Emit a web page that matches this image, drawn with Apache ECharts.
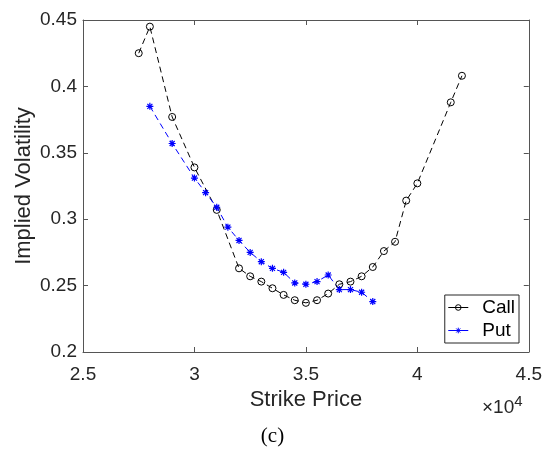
<!DOCTYPE html>
<html>
<head>
<meta charset="utf-8">
<script src="https://cdn.jsdelivr.net/npm/echarts@6/dist/echarts.min.js"></script>
<style>
html,body{margin:0;padding:0;background:#fff;}
#chart{width:545px;height:461px;}
</style>
</head>
<body>
<div id="chart"></div>
<script>
const callStrikes = [27500,28000,29000,30000,31000,32000,32500,33000,33500,34000,34500,35000,35500,36000,36500,37000,37500,38000,38500,39000,39500,40000,41500,42000];
const callIV = [0.425,0.445,0.377,0.339,0.307,0.263,0.257,0.253,0.248,0.243,0.239,0.237,0.239,0.244,0.251,0.253,0.257,0.264,0.276,0.283,0.314,0.327,0.388,0.408];
const putStrikes = [28000,29000,30000,30500,31000,31500,32000,32500,33000,33500,34000,34500,35000,35500,36000,36500,37000,37500,38000];
const putIV = [0.385,0.357,0.331,0.320,0.309,0.294,0.284,0.275,0.268,0.263,0.260,0.252,0.251,0.253,0.258,0.247,0.247,0.245,0.238];
const xTickLabels = ['2.5','3','3.5','4','4.5'];
const yTickLabels = ['0.2','0.25','0.3','0.35','0.4','0.45'];

const font = 'Liberation Sans, Helvetica, Arial, sans-serif';
const textColor = '#262626';
const axisColor = '#555555';
const asterisk = 'path://M0,-5L0,5M-5,0L5,0M-3.6,-3.6L3.6,3.6M-3.6,3.6L3.6,-3.6';

const chart = echarts.init(document.getElementById('chart'), null, {renderer:'canvas'});
const xBase = {
  type:'value', min:25000, max:45000, interval:5000,
  axisLine:{show:true, onZero:false, lineStyle:{color:axisColor, width:1}},
  axisTick:{show:true, inside:true, length:5, lineStyle:{color:axisColor}},
  splitLine:{show:false}
};
const yBase = {
  type:'value', min:0.2, max:0.45, interval:0.05,
  axisLine:{show:true, onZero:false, lineStyle:{color:axisColor, width:1}},
  axisTick:{show:true, inside:true, length:5, lineStyle:{color:axisColor}},
  splitLine:{show:false}
};
const option = {
  backgroundColor:'#fff',
  animation:false,
  grid:{left:83, right:16, top:20, bottom:109, containLabel:false},
  xAxis:[
    Object.assign({}, xBase, {
      position:'bottom',
      name:'Strike Price', nameLocation:'middle', nameGap:37, nameMoveOverlap:false,
      nameTextStyle:{fontFamily:font, fontSize:22, color:textColor},
      axisLabel:{show:true, margin:13, fontFamily:font, fontSize:19, color:textColor,
        formatter:function(v){ return xTickLabels[Math.round((v-25000)/5000)]; }}
    }),
    Object.assign({}, xBase, {position:'top', axisLabel:{show:false}})
  ],
  yAxis:[
    Object.assign({}, yBase, {
      position:'left',
      name:'Implied Volatility', nameLocation:'middle', nameGap:48, nameMoveOverlap:false,
      nameTextStyle:{fontFamily:font, fontSize:22, color:textColor},
      axisLabel:{show:true, margin:6, fontFamily:font, fontSize:19, color:textColor,
        formatter:function(v){ return yTickLabels[Math.round((v-0.2)/0.05)]; }}
    }),
    Object.assign({}, yBase, {position:'right', axisLabel:{show:false}})
  ],
  legend:{
    orient:'vertical', right:26, bottom:118,
    backgroundColor:'#fff',
    borderColor:textColor, borderWidth:1,
    padding:[3,4,3,3], itemGap:4,
    itemWidth:20, itemHeight:7,
    lineStyle:{type:'solid', width:1},
    itemStyle:{borderWidth:1},
    textStyle:{fontFamily:font, fontSize:19, color:'#000', padding:[0,0,0,9]},
    data:['Call','Put']
  },
  graphic:[
    {type:'text', left:482, top:394,
      style:{text:'×10{sup|4}', font:'19px Liberation Sans, Helvetica, Arial, sans-serif', fill:textColor,
        rich:{sup:{fontSize:15, verticalAlign:'top', padding:[0,0,12,0], fontFamily:font, fill:textColor}}}},
    {type:'text', left:'center', top:426,
      style:{text:'(c)', font:'21px Liberation Serif, DejaVu Serif, serif', fill:'#000'}}
  ],
  series:[
    {
      name:'Call', type:'line',
      data:callStrikes.map((s,i)=>[s, callIV[i]]),
      symbol:'circle', symbolSize:7,
      lineStyle:{color:'#000', width:1, type:[6,4]},
      itemStyle:{color:'rgba(255,255,255,0)', borderColor:'#000', borderWidth:1},
      emphasis:{disabled:true}
    },
    {
      name:'Put', type:'line',
      data:putStrikes.map((s,i)=>[s, putIV[i]]),
      symbol:asterisk, symbolSize:7,
      lineStyle:{color:'#0000ff', width:1, type:[6,4]},
      itemStyle:{color:'#0000ff', borderColor:'#0000ff', borderWidth:1.2},
      emphasis:{disabled:true}
    }
  ]
};
chart.setOption(option);
</script>
</body>
</html>
